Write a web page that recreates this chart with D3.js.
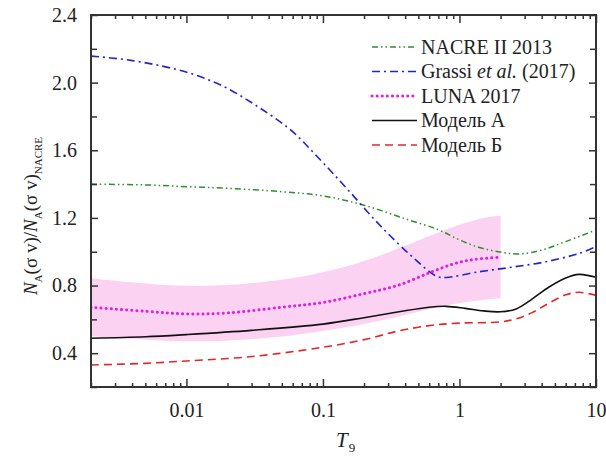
<!DOCTYPE html>
<html><head><meta charset="utf-8">
<script src="https://cdn.jsdelivr.net/npm/d3@7"></script>
<style>body{margin:0;background:#fff} svg text{font-family:"Times New Roman",Times,"Liberation Serif","Noto Serif","DejaVu Serif",serif;fill:#222}</style>
</head><body><svg id="c" width="606" height="457"></svg>
<script>
// ---- data ----
const nacreT = [0.002,0.005,0.01,0.02,0.05,0.1,0.2,0.4,0.7,1.0,1.4,2.0,2.7,4.0,6.0,10];
const nacreV = [1.40,1.395,1.385,1.375,1.355,1.33,1.275,1.195,1.13,1.07,1.025,0.998,0.987,1.01,1.06,1.128];

const grassiT = [0.002,0.0035,0.0061,0.0107,0.0189,0.0333,0.058,0.091,0.149,0.26,0.45,0.68,0.8,1.4,2.4,4.3,7.5,10];
const grassiV = [2.157,2.137,2.104,2.055,1.976,1.858,1.72,1.562,1.375,1.158,0.971,0.855,0.848,0.882,0.908,0.941,0.99,1.03];

const lunaT = [0.002,0.005,0.01,0.02,0.05,0.1,0.205,0.36,0.63,0.94,1.3,2.0];
const lunaV = [0.671,0.648,0.632,0.638,0.672,0.70,0.754,0.803,0.882,0.932,0.955,0.967];

const bandT = [0.002,0.005,0.01,0.02,0.05,0.1,0.2,0.4,0.8,1.4,2.0];
const bandLow = [0.50,0.48,0.468,0.472,0.495,0.53,0.57,0.625,0.685,0.714,0.725];
const bandHigh = [0.843,0.81,0.795,0.80,0.83,0.875,0.94,1.035,1.135,1.20,1.213];

const modelAT = [0.002,0.005,0.01,0.03,0.1,0.2,0.36,0.6,0.8,1.1,1.5,2.0,2.6,3.4,4.5,6.0,7.5,9.0,10];
const modelAV = [0.488,0.497,0.51,0.535,0.572,0.61,0.645,0.672,0.677,0.665,0.65,0.645,0.662,0.72,0.79,0.845,0.866,0.857,0.849];

const modelBT = [0.002,0.005,0.01,0.03,0.1,0.2,0.36,0.63,1.0,2.0,2.6,3.4,4.5,6.0,7.5,10];
const modelBV = [0.33,0.34,0.354,0.38,0.435,0.48,0.532,0.565,0.578,0.585,0.603,0.64,0.695,0.745,0.76,0.742];

const xTicks = [0.01,0.1,1,10];
const xTickLabels = ["0.01","0.1","1","10"];
const yTicks = [0.4,0.8,1.2,1.6,2.0,2.4];
const yTickLabels = ["0.4","0.8","1.2","1.6","2.0","2.4"];
const legendLabels = ["NACRE II 2013","Grassi et al. (2017)","LUNA 2017","Модель А","Модель Б"];

// ---- layout ----
const L=91,R=596,T=15,B=387;
const svg=d3.select("#c");
const x=d3.scaleLog().domain([0.002,10]).range([L,R]);
const y=d3.scaleLinear().domain([0.2,2.4]).range([B,T]);

svg.append("clipPath").attr("id","clip").append("rect").attr("x",L).attr("y",T).attr("width",R-L).attr("height",B-T);
const g=svg.append("g").attr("clip-path","url(#clip)");

const zip=(a,b)=>a.map((t,i)=>[t,b[i]]);
const line=d3.line().x(d=>x(d[0])).y(d=>y(d[1])).curve(d3.curveCatmullRom.alpha(0.5));

// band
g.append("path").datum(bandT.map((t,i)=>[t,bandLow[i],bandHigh[i]]))
 .attr("d",d3.area().x(d=>x(d[0])).y0(d=>y(d[1])).y1(d=>y(d[2])).curve(d3.curveBasis))
 .attr("fill","#fcd2f2");

const styles=[
 {col:"#2f8f2f",w:1.5,dash:"6,3,1.5,3,1.5,3",cap:"butt"},
 {col:"#2323c8",w:1.6,dash:"8,4,2,4",cap:"butt"},
 {col:"#e020e0",w:3,dash:"0.1,5",cap:"round"},
 {col:"#111",w:1.6,dash:null,cap:"butt"},
 {col:"#e02828",w:1.6,dash:"8,5",cap:"butt"}
];
const series=[zip(nacreT,nacreV),zip(grassiT,grassiV),zip(lunaT,lunaV),zip(modelAT,modelAV),zip(modelBT,modelBV)];
series.forEach((s,i)=>{
  const st=styles[i];
  g.append("path").datum(s).attr("d",line).attr("fill","none")
   .attr("stroke",st.col).attr("stroke-width",st.w).attr("stroke-linecap",st.cap)
   .attr("stroke-dasharray",st.dash);
});

// axes (ticks inward)
const minorX=[];
[0.001,0.01,0.1,1].forEach(d=>{for(let k=2;k<=9;k++){const v=d*k; if(v>=0.002&&v<=10) minorX.push(v);}});
const axB=d3.axisBottom(x).tickValues(xTicks).tickSize(-8).tickFormat((d,i)=>xTickLabels[i]).tickPadding(16);
const axBm=d3.axisBottom(x).tickValues(minorX).tickSize(-4).tickFormat("");
const axT=d3.axisTop(x).tickValues(xTicks).tickSize(-8).tickFormat("");
const axTm=d3.axisTop(x).tickValues(minorX).tickSize(-4).tickFormat("");
const yMinor=[0.2,0.6,1.0,1.4,1.8,2.2];
const axL=d3.axisLeft(y).tickValues(yTicks).tickSize(-7).tickFormat((d,i)=>yTickLabels[i]).tickPadding(14);
const axLm=d3.axisLeft(y).tickValues(yMinor).tickSize(-6).tickFormat("");
const axR=d3.axisRight(y).tickValues(yTicks).tickSize(-7).tickFormat("");
const axRm=d3.axisRight(y).tickValues(yMinor).tickSize(-6).tickFormat("");
const addAx=(ax,tx,ty)=>{const a=svg.append("g").attr("transform",`translate(${tx},${ty})`).call(ax);
  a.attr("font-family",null);
  a.select(".domain").remove(); a.selectAll("line").attr("stroke","#333").attr("stroke-width",1.5);
  a.selectAll("text").attr("font-size",20).attr("fill","#222");return a;};
addAx(axB,0,B); addAx(axBm,0,B); addAx(axT,0,T); addAx(axTm,0,T);
addAx(axL,L,0); addAx(axLm,L,0); addAx(axR,R,0); addAx(axRm,R,0);

svg.append("rect").attr("x",L).attr("y",T).attr("width",R-L).attr("height",B-T)
 .attr("fill","none").attr("stroke","#333").attr("stroke-width",2);

// legend
const lg=svg.append("g");
const ly0=47, ldy=24.5;
legendLabels.forEach((lab,i)=>{
  const st=styles[i], yy=ly0+i*ldy;
  lg.append("line").attr("x1",372).attr("x2",417).attr("y1",yy).attr("y2",yy)
    .attr("stroke",st.col).attr("stroke-width",st.w).attr("stroke-linecap",st.cap).attr("stroke-dasharray",st.dash);
  const t=lg.append("text").attr("x",421).attr("y",yy+6.5).attr("font-size",20);
  if(i===1){
    t.append("tspan").text("Grassi ");
    t.append("tspan").attr("font-style","italic").text("et al.");
    t.append("tspan").text(" (2017)");
  } else t.text(lab);
});

// axis titles
const xt=svg.append("text").attr("x",336).attr("y",447).attr("font-size",21);
xt.append("tspan").attr("font-style","italic").text("T");
xt.append("tspan").attr("font-size",13).attr("dy",5).attr("dx",1).text("9");

const yt=svg.append("text").attr("transform","translate(37,216) rotate(-90)").attr("text-anchor","middle").attr("font-size",19);
yt.append("tspan").attr("font-style","italic").text("N");
yt.append("tspan").attr("font-size",11).attr("dy",5).text("A");
yt.append("tspan").attr("dy",-5).text("(σ v)/");
yt.append("tspan").attr("font-style","italic").text("N");
yt.append("tspan").attr("font-size",11).attr("dy",5).text("A");
yt.append("tspan").attr("dy",-5).text("(σ v)");
yt.append("tspan").attr("font-size",11).attr("dy",5).text("NACRE");
</script></body></html>
